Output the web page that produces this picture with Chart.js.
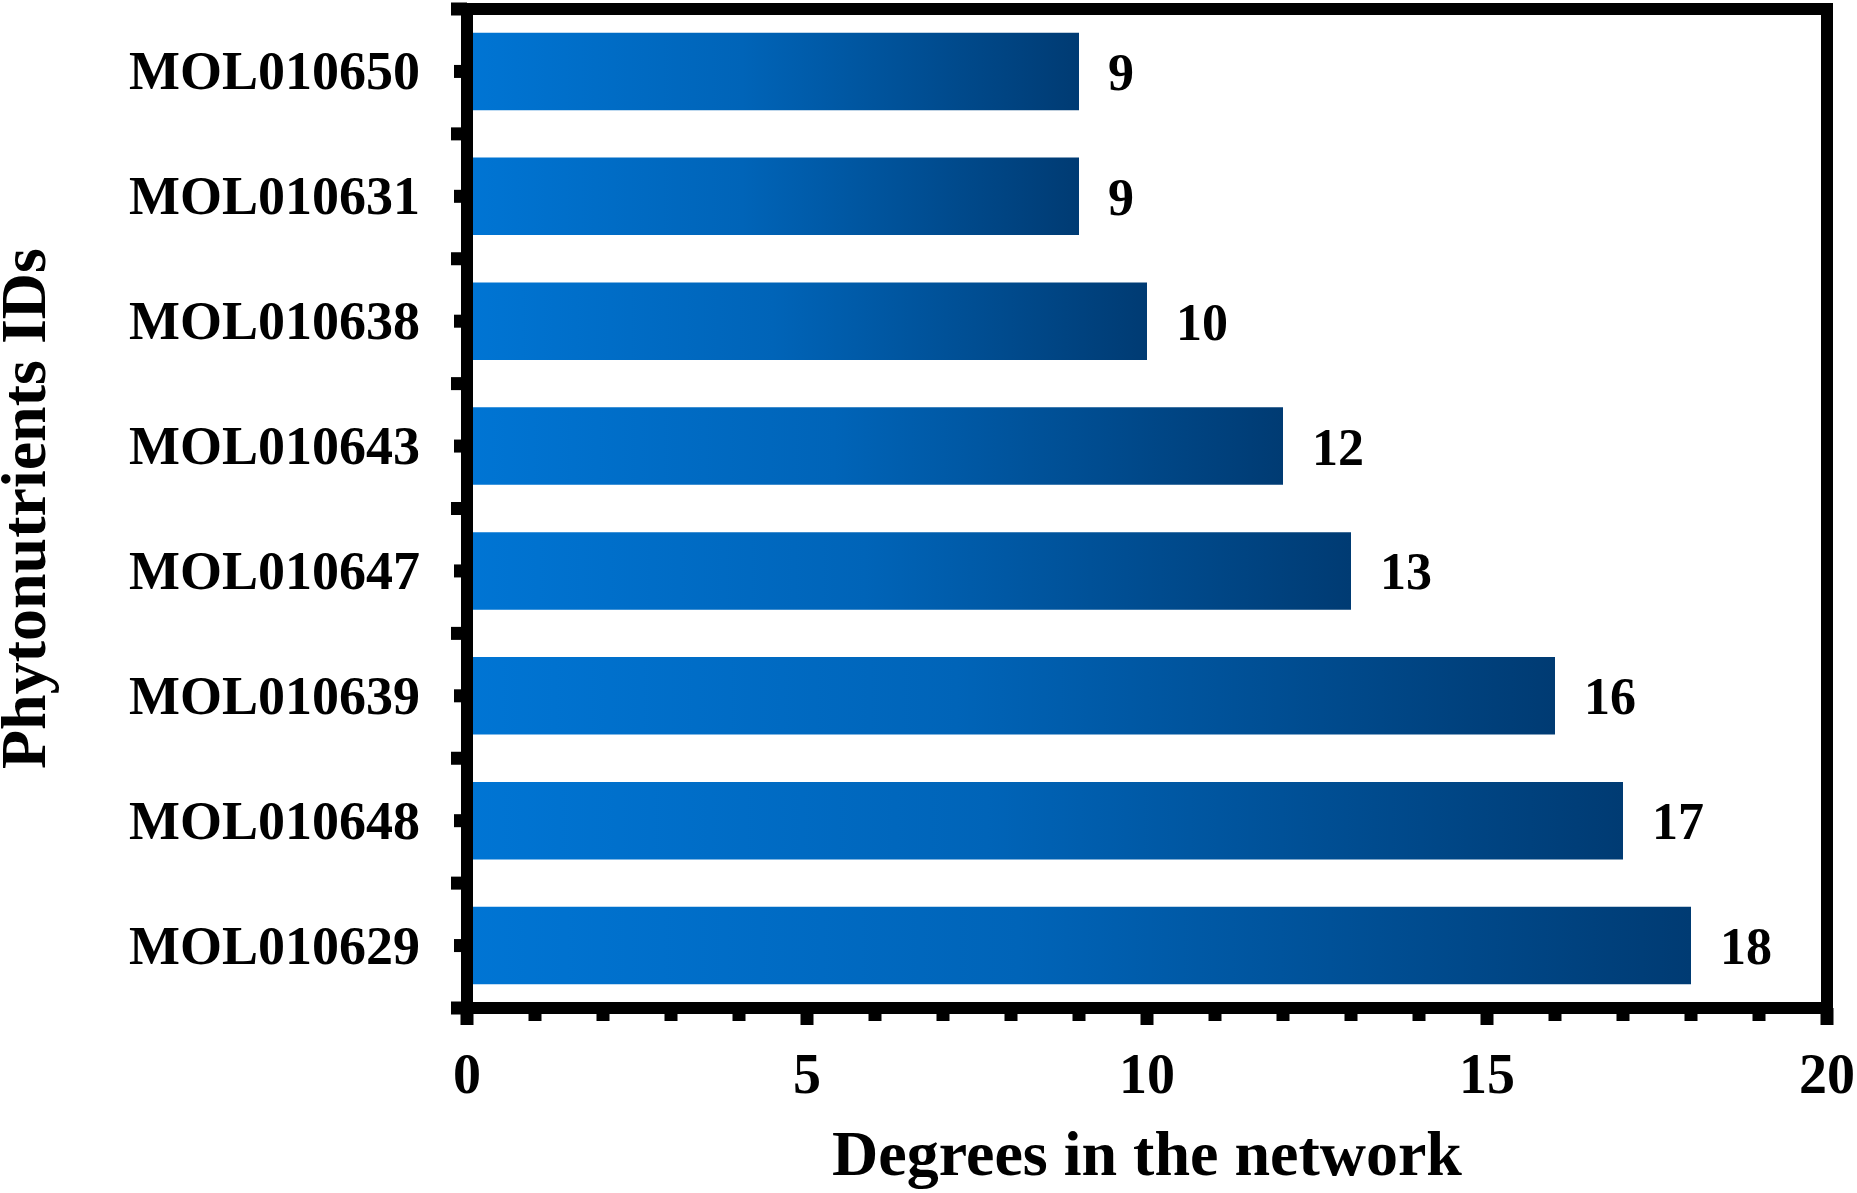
<!DOCTYPE html>
<html>
<head>
<meta charset="utf-8">
<title>Degrees in the network</title>
<script src="https://cdn.jsdelivr.net/npm/chart.js@4.4.1/dist/chart.umd.min.js"></script>
<style>
  html, body { margin: 0; padding: 0; background: #ffffff; }
  canvas { display: block; }
</style>
</head>
<body>
<canvas id="degreeChart" width="1857" height="1193"></canvas>
<script>
// Data (top bar first)
const moleculeIds = ['MOL010650', 'MOL010631', 'MOL010638', 'MOL010643', 'MOL010647', 'MOL010639', 'MOL010648', 'MOL010629'];
const degrees = [9, 9, 10, 12, 13, 16, 17, 18];
const xTickLabels = [0, 5, 10, 15, 20];

const FONT = '"Liberation Serif", "Times New Roman", serif';

// Horizontal gradient, light blue at zero to navy at the bar's end
function barGradient(context) {
  const chart = context.chart;
  if (!chart.chartArea || !chart.scales.x) return '#0063B6';
  const xs = chart.scales.x;
  const x0 = xs.getPixelForValue(0);
  const x1 = xs.getPixelForValue(context.raw);
  const g = chart.ctx.createLinearGradient(x0, 0, x1, 0);
  g.addColorStop(0, '#0075D4');
  g.addColorStop(0.45, '#0064B8');
  g.addColorStop(1, '#003B73');
  return g;
}

// Thick frame, outward ticks and value labels
const framePlugin = {
  id: 'frame',
  afterDatasetsDraw(chart) {
    const ctx = chart.ctx;
    const area = chart.chartArea;
    const xs = chart.scales.x;
    const ys = chart.scales.y;

    ctx.save();
    ctx.fillStyle = '#000';

    // category centre ticks and boundary ticks on the left
    const step = ys.getPixelForValue(1) - ys.getPixelForValue(0);
    for (let i = 0; i < moleculeIds.length; i++) {
      const yc = ys.getPixelForValue(i);
      ctx.fillRect(area.left - 13, yc - 6.5, 13, 13);
    }
    for (let i = 0; i <= moleculeIds.length; i++) {
      const yb = ys.getPixelForValue(0) + (i - 0.5) * step;
      ctx.fillRect(area.left - 16, yb - 6.5, 16, 13);
    }

    // x ticks: every 1, longer at labelled values
    for (let v = 0; v <= 20; v++) {
      const xp = xs.getPixelForValue(v);
      const len = xTickLabels.includes(v) ? 17 : 13;
      ctx.fillRect(xp - 6.5, area.bottom, 13, len);
    }

    // frame
    ctx.strokeStyle = '#000';
    ctx.lineWidth = 12;
    ctx.strokeRect(area.left, area.top, area.right - area.left, area.bottom - area.top);

    // value labels
    ctx.font = 'bold 52px ' + FONT;
    ctx.textAlign = 'left';
    ctx.textBaseline = 'middle';
    const meta = chart.getDatasetMeta(0);
    meta.data.forEach((bar, i) => {
      ctx.fillText(String(degrees[i]), bar.x + 29, bar.y + 5);
    });
    ctx.restore();
  }
};

const degreeChart = new Chart(document.getElementById('degreeChart'), {
  type: 'bar',
  data: {
    labels: moleculeIds,
    datasets: [{
      label: 'Degree',
      data: degrees,
      backgroundColor: barGradient,
      borderWidth: 0,
      barPercentage: 0.62,
      categoryPercentage: 1
    }]
  },
  options: {
    indexAxis: 'y',
    responsive: false,
    devicePixelRatio: 1,
    animation: false,
    layout: { padding: { top: 9, right: 30, left: 0, bottom: 0 } },
    plugins: {
      legend: { display: false },
      tooltip: { enabled: false }
    },
    scales: {
      x: {
        min: 0,
        max: 20,
        grid: { display: false },
        border: { display: false },
        ticks: {
          stepSize: 1,
          autoSkip: false,
          maxRotation: 0,
          padding: 29,
          color: '#000',
          font: { family: FONT, size: 56, weight: 'bold' },
          callback: v => xTickLabels.includes(v) ? String(v) : ''
        },
        title: {
          display: true,
          text: 'Degrees in the network',
          color: '#000',
          font: { family: FONT, size: 64, weight: 'bold', lineHeight: 1 },
          padding: { top: 0, bottom: 3 }
        },
        afterFit: s => {
          s.height = 185;
          s.paddingLeft = 0;
          s.paddingRight = 0;
        }
      },
      y: {
        grid: { display: false },
        border: { display: false },
        ticks: {
          padding: 39,
          labelOffset: 4,
          color: '#000',
          font: { family: FONT, size: 54, weight: 'bold' }
        },
        title: {
          display: true,
          text: 'Phytonutrients IDs',
          color: '#000',
          font: { family: FONT, size: 64, weight: 'bold', lineHeight: 0.9 },
          padding: { top: 0, bottom: 0 }
        },
        afterFit: s => {
          s.width = 467;
          s.paddingTop = 0;
          s.paddingBottom = 0;
        }
      }
    }
  },
  plugins: [framePlugin]
});
</script>
</body>
</html>
